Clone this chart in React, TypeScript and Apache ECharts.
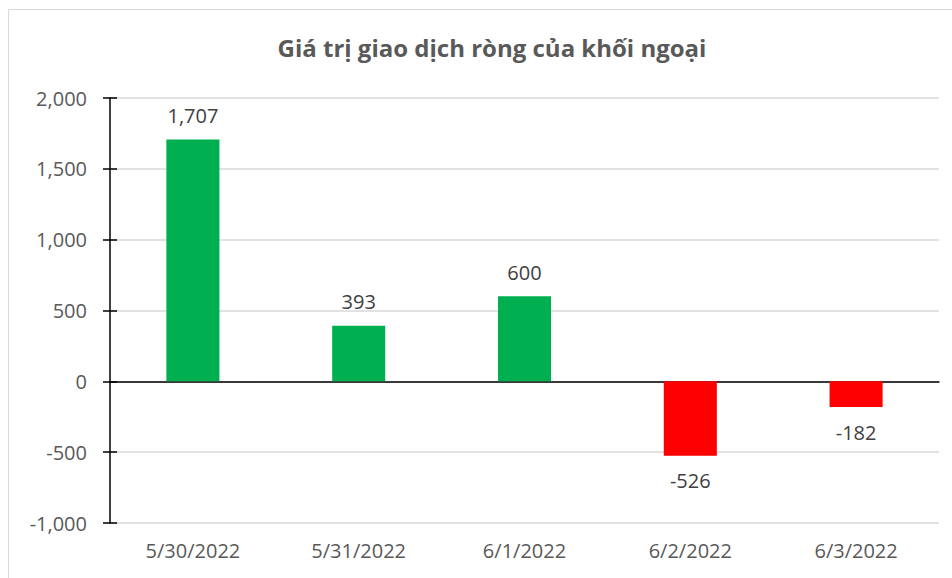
import React, { useEffect, useRef } from "react";
import * as echarts from "echarts";

const categories = ["5/30/2022", "5/31/2022", "6/1/2022", "6/2/2022", "6/3/2022"];
const values = [1707, 393, 600, -526, -182];
const yTicks = { min: -1000, max: 2000, interval: 500 };
const title = "Giá trị giao dịch ròng của khối ngoại";

const FONT = '"Open Sans", "Noto Sans", sans-serif';
const fmt = (v: number) => v.toLocaleString("en-US");

export default function App() {
  const ref = useRef<HTMLDivElement>(null);
  useEffect(() => {
    if (!ref.current) return;
    const chart = echarts.init(ref.current, null, { renderer: "svg" });
    chart.setOption({
      animation: false,
      textStyle: { fontFamily: FONT },
      title: {
        text: title,
        left: 487,
        textAlign: "center",
        top: 30,
        textStyle: { fontFamily: FONT, fontSize: 24, fontWeight: "bold", color: "#595959" },
      },
      graphic: [
        {
          type: "rect",
          shape: { x: 8.5, y: 9.5, width: 980, height: 620 },
          style: { fill: "none", stroke: "#d9d9d9", lineWidth: 1 },
          silent: true,
          z: -1,
        },
      ],
      grid: { left: 110, right: 13, top: 98, bottom: 55 },
      xAxis: [
        {
          type: "category",
          data: categories,
          position: "bottom",
          axisLine: { show: false, onZero: false },
          axisTick: { show: false },
          axisLabel: { color: "#595959", fontSize: 20, fontFamily: FONT, margin: 17 },
        },
        {
          type: "category",
          data: categories,
          axisLine: { show: true, onZero: true, lineStyle: { color: "#000", width: 1.5 } },
          axisTick: { show: false },
          axisLabel: { show: false },
          splitLine: { show: false },
        },
      ],
      yAxis: [
        {
          type: "value",
          ...yTicks,
          axisLine: { show: true, lineStyle: { color: "#000", width: 1.5 } },
          axisTick: { show: true, length: 7, inside: false, lineStyle: { color: "#000", width: 1.5 } },
          axisLabel: {
            color: "#595959",
            fontSize: 20,
            fontFamily: FONT,
            margin: 23,
            formatter: (v: number) => fmt(v),
          },
          splitLine: { show: true, lineStyle: { color: "#d9d9d9", width: 1.5 } },
        },
        {
          type: "value",
          ...yTicks,
          position: "left",
          axisLine: { show: false },
          axisTick: { show: true, length: 7, inside: true, lineStyle: { color: "#000", width: 1.5 } },
          axisLabel: { show: false },
          splitLine: { show: false },
        },
      ],
      series: [
        {
          type: "bar",
          xAxisIndex: 0,
          yAxisIndex: 0,
          barWidth: "32%",
          data: values.map((v) => ({
            value: v,
            itemStyle: { color: v >= 0 ? "#00B050" : "#FF0000" },
            label: {
              show: true,
              position: v >= 0 ? "top" : "bottom",
              distance: v >= 0 ? 14 : 15,
              formatter: () => fmt(v),
              color: "#404040",
              fontSize: 20,
              fontFamily: FONT,
            },
          })),
        },
      ],
    });
    return () => chart.dispose();
  }, []);
  return (
    <div
      ref={ref}
      style={{ position: "fixed", left: 0, top: 0, width: 952, height: 578, background: "#fff" }}
    />
  );
}
